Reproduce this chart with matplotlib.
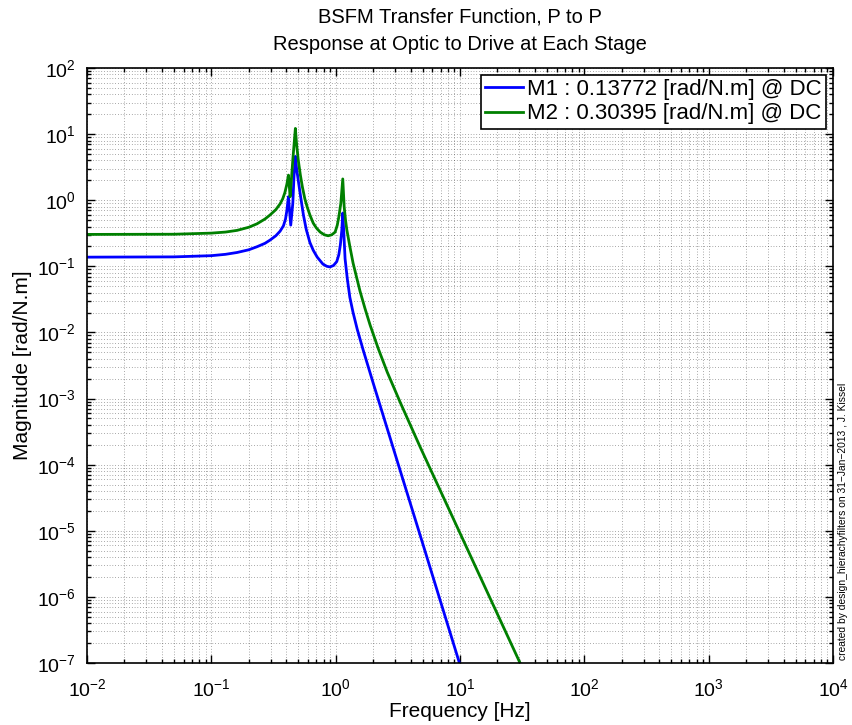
"""BSFM P-to-P transfer function magnitude, MATLAB-style log-log plot."""

import matplotlib

matplotlib.use("Agg")
import matplotlib.pyplot as plt  # noqa: E402
from matplotlib.ticker import LogLocator, NullFormatter  # noqa: E402

plt.rcParams["font.family"] = ["Liberation Sans", "DejaVu Sans"]
plt.rcParams["mathtext.default"] = "regular"

# values
m1_freq = [0.01, 0.05, 0.1, 0.13, 0.161, 0.2, 0.233, 0.27, 0.297, 0.33,
           0.357, 0.38, 0.395, 0.405, 0.417, 0.435, 0.452, 0.462, 0.474,
           0.485, 0.5, 0.52, 0.55, 0.58, 0.62, 0.66, 0.71, 0.79, 0.85, 0.9,
           0.96, 1.02, 1.06, 1.09, 1.12, 1.14, 1.16, 1.19, 1.24, 1.30, 1.38,
           1.49, 1.66, 2.0, 3.0, 5.0, 7.0, 9.8, 12.0]
m1_mag = [0.1377, 0.139, 0.145, 0.152, 0.162, 0.178, 0.198, 0.223, 0.25,
          0.29, 0.34, 0.41, 0.52, 0.7, 1.13, 0.42, 0.9, 2.27, 4.6,
          3.0, 2.0, 1.2, 0.6, 0.36, 0.23, 0.175, 0.138, 0.108, 0.1, 0.098,
          0.103, 0.118, 0.15, 0.21, 0.35, 0.64, 0.35, 0.13, 0.065, 0.034,
          0.02, 0.0112, 0.0055, 0.00173, 1.46e-4, 6.5e-6, 8.3e-7, 1.06e-7,
          3.1e-8]

m2_freq = [0.01, 0.05, 0.1, 0.13, 0.161, 0.2, 0.233, 0.27, 0.297, 0.33,
           0.357, 0.375, 0.39, 0.405, 0.417, 0.43, 0.44, 0.452, 0.474,
           0.485, 0.5, 0.52, 0.54, 0.565, 0.59, 0.62, 0.66, 0.7, 0.75, 0.81,
           0.87, 0.93, 0.99, 1.03, 1.06, 1.1, 1.14, 1.17, 1.2, 1.23, 1.3,
           1.38, 1.57, 1.72, 1.89, 2.2, 2.6, 3.3, 4.78, 10.0, 30.4, 40.0]
m2_mag = [0.304, 0.306, 0.318, 0.33, 0.35, 0.39, 0.44, 0.52, 0.6, 0.72,
          0.88, 1.05, 1.3, 1.75, 2.4, 1.13, 2.0, 4.05, 12.2,
          7.0, 4.05, 2.4, 1.58, 1.05, 0.79, 0.6, 0.45, 0.38, 0.33, 0.3,
          0.29, 0.3, 0.33, 0.42, 0.56, 0.9, 2.1, 0.8, 0.5, 0.354, 0.2,
          0.112, 0.042, 0.0231, 0.013, 0.0057, 0.0025, 8.8e-4, 1.85e-4,
          9.2e-6, 1.0e-7, 3.3e-8]

labels = ["M1 : 0.13772 [rad/N.m] @ DC", "M2 : 0.30395 [rad/N.m] @ DC"]
colors = ["#0000ff", "#008000"]
x_decades = [1e-2, 1e-1, 1e0, 1e1, 1e2, 1e3, 1e4]
y_decades = [1e-7, 1e-6, 1e-5, 1e-4, 1e-3, 1e-2, 1e-1, 1e0, 1e1, 1e2]

fig = plt.figure(figsize=(8.53, 7.25), dpi=100)
ax = fig.add_axes([0.102, 0.0855, 0.8746, 0.8207])

ax.loglog(m1_freq, m1_mag, color=colors[0], linewidth=2, label=labels[0])
ax.loglog(m2_freq, m2_mag, color=colors[1], linewidth=2, label=labels[1])

ax.set_xlim(x_decades[0], x_decades[-1])
ax.set_ylim(y_decades[0], y_decades[-1])
ax.set_xticks(x_decades)
ax.set_yticks(y_decades)
ax.xaxis.set_minor_locator(LogLocator(base=10, subs=range(2, 10), numticks=20))
ax.yaxis.set_minor_locator(LogLocator(base=10, subs=range(2, 10), numticks=20))
ax.xaxis.set_minor_formatter(NullFormatter())
ax.yaxis.set_minor_formatter(NullFormatter())

ax.grid(True, which="both", color="k", linestyle=(0, (1, 3)), linewidth=0.5,
        alpha=0.65)
ax.tick_params(which="both", direction="in", top=True, right=True,
               labelsize=14, width=1)
ax.tick_params(which="major", length=6, pad=8)
ax.tick_params(axis="x", which="major", pad=11)
ax.tick_params(which="minor", length=3)
for sp in ax.spines.values():
    sp.set_linewidth(1.2)

ax.set_xlabel("Frequency [Hz]", fontsize=15)
ax.xaxis.set_label_coords(0.5, -0.081)
ax.xaxis.label.set_va("center")
ax.set_ylabel("Magnitude [rad/N.m]", fontsize=15)
ax.yaxis.set_label_coords(-0.087, 0.5)
ax.yaxis.label.set_va("center")

fig.text(0.539, 1 - 17 / 725, "BSFM Transfer Function, P to P",
         fontsize=14.5, ha="center", va="center")
fig.text(0.539, 1 - 45 / 725, "Response at Optic to Drive at Each Stage",
         fontsize=14.5, ha="center", va="center")

leg = ax.legend(loc="upper right", fontsize=16, fancybox=False, framealpha=1,
                edgecolor="k", handlelength=1.7, handletextpad=0.2,
                borderpad=0.2, labelspacing=0.15, borderaxespad=0.3)
leg.get_frame().set_linewidth(1.2)

fig.text(0.988, 0.09, "created by design_hierachyfilters on 31\u2212Jan\u22122013 , J. Kissel",
         rotation=90, fontsize=7.4, ha="center", va="bottom")

fig.savefig("out.png", dpi=100)
